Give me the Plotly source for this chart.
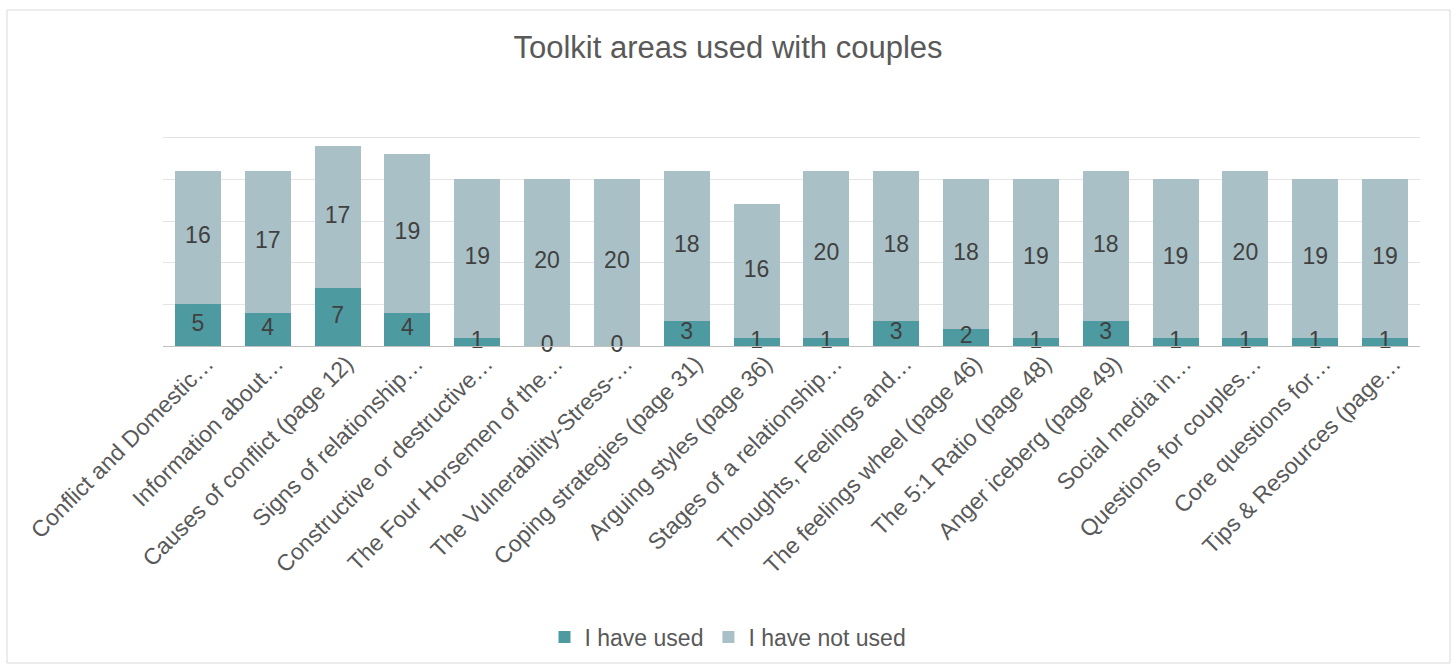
import plotly.graph_objects as go

categories = [
    "Conflict and Domestic…",
    "Information about…",
    "Causes of conflict (page 12)",
    "Signs of relationship…",
    "Constructive or destructive…",
    "The Four Horsemen of the…",
    "The Vulnerability-Stress-…",
    "Coping strategies (page 31)",
    "Arguing styles (page 36)",
    "Stages of a relationship…",
    "Thoughts, Feelings and…",
    "The feelings wheel (page 46)",
    "The 5:1 Ratio (page 48)",
    "Anger iceberg (page 49)",
    "Social media in…",
    "Questions for couples…",
    "Core questions for…",
    "Tips & Resources (page…",
]
used = [5, 4, 7, 4, 1, 0, 0, 3, 1, 1, 3, 2, 1, 3, 1, 1, 1, 1]
not_used = [16, 17, 17, 19, 19, 20, 20, 18, 16, 20, 18, 18, 19, 18, 19, 20, 19, 19]

C_USED = "#4E9AA1"
C_NOT = "#A9C0C6"
TXT = "#595959"
LBL = "#404040"
FONT = "Liberation Sans, Arial, sans-serif"

fig = go.Figure()
fig.add_trace(go.Bar(x=categories, y=used, name="I have used",
                     marker=dict(color=C_USED, line=dict(width=0))))
fig.add_trace(go.Bar(x=categories, y=not_used, name="I have not used",
                     marker=dict(color=C_NOT, line=dict(width=0))))

# data labels centred on each segment
fig.add_trace(go.Scatter(x=categories, y=[u / 2 for u in used], mode="text",
                         text=[str(u) for u in used], showlegend=False,
                         textfont=dict(size=23, color=LBL, family=FONT),
                         cliponaxis=False, hoverinfo="skip"))
fig.add_trace(go.Scatter(x=categories, y=[u + n / 2 for u, n in zip(used, not_used)],
                         mode="text", text=[str(n) for n in not_used], showlegend=False,
                         textfont=dict(size=23, color=LBL, family=FONT),
                         cliponaxis=False, hoverinfo="skip"))

L, R, T, B = 163, 36, 96, 322
pw, ph = 1456 - L - R, 668 - T - B

fig.update_layout(
    width=1456, height=668,
    margin=dict(l=L, r=R, t=T, b=B, autoexpand=False),
    barmode="stack", bargap=0.34,
    paper_bgcolor="white", plot_bgcolor="white",
    font=dict(family=FONT, color=TXT, size=23),
    title=dict(text="Toolkit areas used with couples", x=0.5, xanchor="center",
               y=1 - 47 / 668, yanchor="middle", yref="container",
               font=dict(size=31, color=TXT, family=FONT)),
    legend=dict(orientation="h", x=0.5, xanchor="center", xref="container",
                y=1 - 637 / 668, yanchor="middle", yref="container",
                font=dict(size=23, color=TXT), traceorder="normal",
                itemsizing="constant", itemwidth=30),
    hovermode=False,
    xaxis=dict(tickangle=-45, showgrid=False, showline=True, linecolor="#BFBFBF",
               linewidth=1, ticks="", tickfont=dict(size=23, color=TXT),
               ticklabelshift=9, ticklabelstandoff=-6,
               automargin=False, range=[-0.5, len(categories) - 0.5]),
    yaxis=dict(range=[0, 30], dtick=5, showgrid=True, gridcolor="#E4E4E4",
               gridwidth=1, showticklabels=False, zeroline=False, showline=False,
               automargin=False),
    shapes=[dict(type="rect", xref="paper", yref="paper",
                 x0=(7 - L) / pw, x1=(1450 - L) / pw,
                 y0=-(663 - T - ph) / ph, y1=1 + (T - 10) / ph,
                 line=dict(color="#D9D9D9", width=1), fillcolor="rgba(0,0,0,0)",
                 layer="below")],
)

fig.write_html("out.html")
